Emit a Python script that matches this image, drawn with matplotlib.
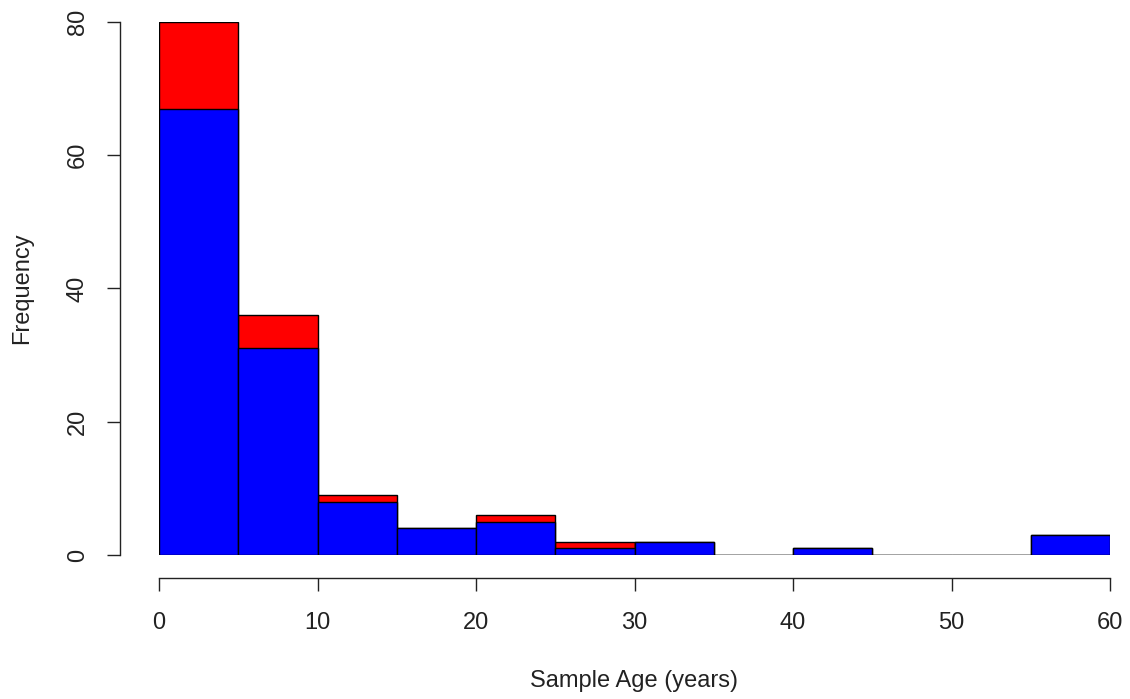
import matplotlib
matplotlib.use("Agg")
import matplotlib.pyplot as plt
import numpy as np

plt.rcParams['font.family'] = ['Liberation Sans', 'DejaVu Sans']

# Histogram bins (years) and counts
bin_edges = [0, 5, 10, 15, 20, 25, 30, 35, 40, 45, 50, 55, 60]
total_counts = [80, 36, 9, 4, 6, 2, 2, 0, 1, 0, 0, 3]
subset_counts = [67, 31, 8, 4, 5, 1, 2, 0, 1, 0, 0, 3]
x_ticks = [0, 10, 20, 30, 40, 50, 60]
y_ticks = [0, 20, 40, 60, 80]

W, H = 1130, 699
fig = plt.figure(figsize=(W / 100, H / 100), dpi=100)
left, right, bottom, top = 159, 1110, 555, 22
ax = fig.add_axes([left / W, 1 - bottom / H, (right - left) / W, (bottom - top) / H])

lefts = np.array(bin_edges[:-1])
widths = np.diff(bin_edges)
ax.bar(lefts, total_counts, width=widths, align='edge', color='#FF0000',
       edgecolor='black', linewidth=1.0)
ax.bar(lefts, subset_counts, width=widths, align='edge', color='#0000FF',
       edgecolor='black', linewidth=1.0)

ax.set_xlim(0, 60)
ax.set_ylim(0, 80)
ax.patch.set_visible(False)
for s in ['top', 'right']:
    ax.spines[s].set_visible(False)
px = 72 / 100
ax.spines['left'].set_position(('outward', 39 * px))
ax.spines['bottom'].set_position(('outward', 23 * px))
ax.spines['left'].set_bounds(0, 80)
ax.spines['bottom'].set_bounds(0, 60)
for s in ['left', 'bottom']:
    ax.spines[s].set_linewidth(1.0)
    ax.spines[s].set_color('#222222')

fs = 17
ax.set_xticks(x_ticks)
ax.set_yticks(y_ticks)
ax.tick_params(axis='both', length=13 * px, width=1.0, color='#222222',
               labelsize=fs, labelcolor='#222222')
ax.tick_params(axis='x', pad=15)
ax.tick_params(axis='y', pad=13)
for lbl in ax.get_yticklabels():
    lbl.set_rotation(90)
    lbl.set_va('center')

ax.set_xlabel('Sample Age (years)', fontsize=fs, color='#222222', labelpad=26)
ax.set_ylabel('Frequency', fontsize=fs, color='#222222', labelpad=24)

fig.savefig('out.png', dpi=100)
